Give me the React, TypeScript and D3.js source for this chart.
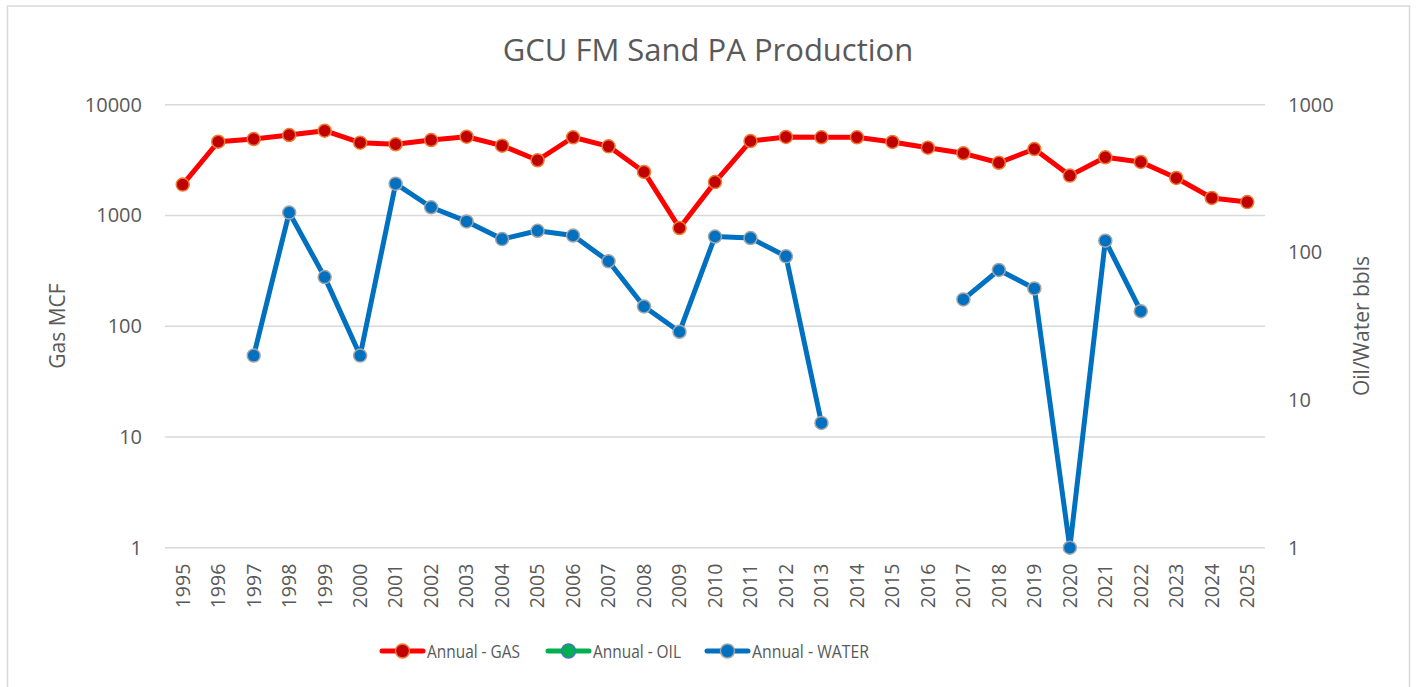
import React, { useEffect, useRef } from "react";
import * as d3 from "d3";

const years: string[] = d3.range(1995, 2026).map(String);

const gas: number[] = [
  1900, 4630, 4900, 5320, 5820, 4540, 4390, 4800, 5140, 4270, 3150, 5080, 4210, 2470, 770, 2000,
  4700, 5110, 5080, 5080, 4610, 4090, 3640, 2990, 3980, 2290, 3350, 3040, 2180, 1440, 1320,
];

const oil: (number | null)[] = years.map(() => null);

const water: (number | null)[] = [
  null, null, 20, 186, 68, 20, 292, 202, 162, 123, 140, 130, 87, 43, 29, 128,
  125, 94, 7, null, null, null, 48, 76, 57, 1, 120, 40, null, null, null,
];

const leftTicks = [1, 10, 100, 1000, 10000];
const rightTicks = [1, 10, 100, 1000];

const FONT = "'Open Sans', sans-serif";
const TEXT = "#595959";

export default function App() {
  const ref = useRef<SVGSVGElement>(null);

  useEffect(() => {
    const width = 1416;
    const height = 687;
    const svg = d3.select(ref.current);
    svg.selectAll("*").remove();
    svg.attr("width", width).attr("height", height);

    const left = 165, right = 1265, top = 104.7, bottom = 547.7;

    svg.append("rect")
      .attr("x", 7.5).attr("y", 6)
      .attr("width", 1402).attr("height", 690)
      .attr("fill", "#fff")
      .attr("stroke", "#d9d9d9")
      .attr("stroke-width", 1.5);

    const x = d3.scaleBand().domain(years).range([left, right]);
    const yL = d3.scaleLog().domain([1, 10000]).range([bottom, top]);
    const yR = d3.scaleLog().domain([1, 1000]).range([bottom, top]);
    const cx = (d: string) => (x(d) as number) + x.bandwidth() / 2;

    // gridlines
    svg.append("g")
      .selectAll("line")
      .data(leftTicks)
      .join("line")
      .attr("x1", left).attr("x2", right)
      .attr("y1", d => yL(d)).attr("y2", d => yL(d))
      .attr("stroke", "#d9d9d9")
      .attr("stroke-width", 1.5);

    // left ticks
    svg.append("g")
      .selectAll("text")
      .data(leftTicks)
      .join("text")
      .attr("x", 142)
      .attr("y", d => yL(d))
      .attr("dy", "0.35em")
      .attr("text-anchor", "end")
      .attr("font-family", FONT)
      .attr("font-size", 20)
      .attr("fill", TEXT)
      .text(d => String(d));

    // right ticks
    svg.append("g")
      .selectAll("text")
      .data(rightTicks)
      .join("text")
      .attr("x", 1288)
      .attr("y", d => yR(d))
      .attr("dy", "0.35em")
      .attr("text-anchor", "start")
      .attr("font-family", FONT)
      .attr("font-size", 20)
      .attr("fill", TEXT)
      .text(d => String(d));

    // year labels
    svg.append("g")
      .selectAll("text")
      .data(years)
      .join("text")
      .attr("transform", d => `translate(${cx(d)},${bottom + 16}) rotate(-90)`)
      .attr("dy", "0.35em")
      .attr("text-anchor", "end")
      .attr("font-family", FONT)
      .attr("font-size", 19.5)
      .attr("fill", TEXT)
      .text(d => d);

    // axis titles
    svg.append("text")
      .attr("transform", `translate(58,326) rotate(-90)`)
      .attr("dy", "0.35em")
      .attr("text-anchor", "middle")
      .attr("font-family", FONT)
      .attr("font-size", 21)
      .attr("fill", TEXT)
      .text("Gas MCF");
    svg.append("text")
      .attr("transform", `translate(1362,326) rotate(-90)`)
      .attr("dy", "0.35em")
      .attr("text-anchor", "middle")
      .attr("font-family", FONT)
      .attr("font-size", 21)
      .attr("fill", TEXT)
      .text("Oil/Water bbls");

    // title
    svg.append("text")
      .attr("x", 708).attr("y", 50)
      .attr("dy", "0.35em")
      .attr("text-anchor", "middle")
      .attr("font-family", FONT)
      .attr("font-size", 31)
      .attr("fill", TEXT)
      .text("GCU FM Sand PA Production");

    const series = [
      { name: "Annual - GAS", values: gas as (number | null)[], y: yL, line: "#ff0000", fill: "#c00000", ring: "#ed7d31" },
      { name: "Annual - OIL", values: oil, y: yR, line: "#00b050", fill: "#00b050", ring: "#4472c4" },
      { name: "Annual - WATER", values: water, y: yR, line: "#0070c0", fill: "#0070c0", ring: "#a5a5a5" },
    ];

    series.forEach(s => {
      const pts = years.map((yr, i) => ({ yr, v: s.values[i] }));
      const line = d3.line<{ yr: string; v: number | null }>()
        .defined(d => d.v != null && d.v > 0)
        .x(d => cx(d.yr))
        .y(d => s.y(d.v as number));
      const g = svg.append("g");
      g.append("path")
        .datum(pts)
        .attr("d", line)
        .attr("fill", "none")
        .attr("stroke", s.line)
        .attr("stroke-width", 5)
        .attr("stroke-linejoin", "round")
        .attr("stroke-linecap", "round");
      g.selectAll("circle")
        .data(pts.filter(d => d.v != null && d.v > 0))
        .join("circle")
        .attr("cx", d => cx(d.yr))
        .attr("cy", d => s.y(d.v as number))
        .attr("r", 6.5)
        .attr("fill", s.fill)
        .attr("stroke", s.ring)
        .attr("stroke-width", 1.5);
    });

    // legend
    const legendX = [382, 548, 707];
    const legendW = [93, 88, 117];
    const lg = svg.append("g");
    series.forEach((s, i) => {
      const lx = legendX[i];
      lg.append("line")
        .attr("x1", lx).attr("x2", lx + 41)
        .attr("y1", 651).attr("y2", 651)
        .attr("stroke", s.line)
        .attr("stroke-width", 5)
        .attr("stroke-linecap", "round");
      lg.append("circle")
        .attr("cx", lx + 20.5).attr("cy", 651)
        .attr("r", 7)
        .attr("fill", s.fill)
        .attr("stroke", s.ring)
        .attr("stroke-width", 1.5);
      lg.append("text")
        .attr("x", lx + 45).attr("y", 651)
        .attr("dy", "0.35em")
        .attr("font-family", FONT)
        .attr("font-size", 19)
        .attr("textLength", legendW[i])
        .attr("lengthAdjust", "spacingAndGlyphs")
        .attr("fill", TEXT)
        .text(s.name);
    });
  }, []);

  return <svg ref={ref} style={{ position: "absolute", left: 0, top: 0 }}></svg>;
}
